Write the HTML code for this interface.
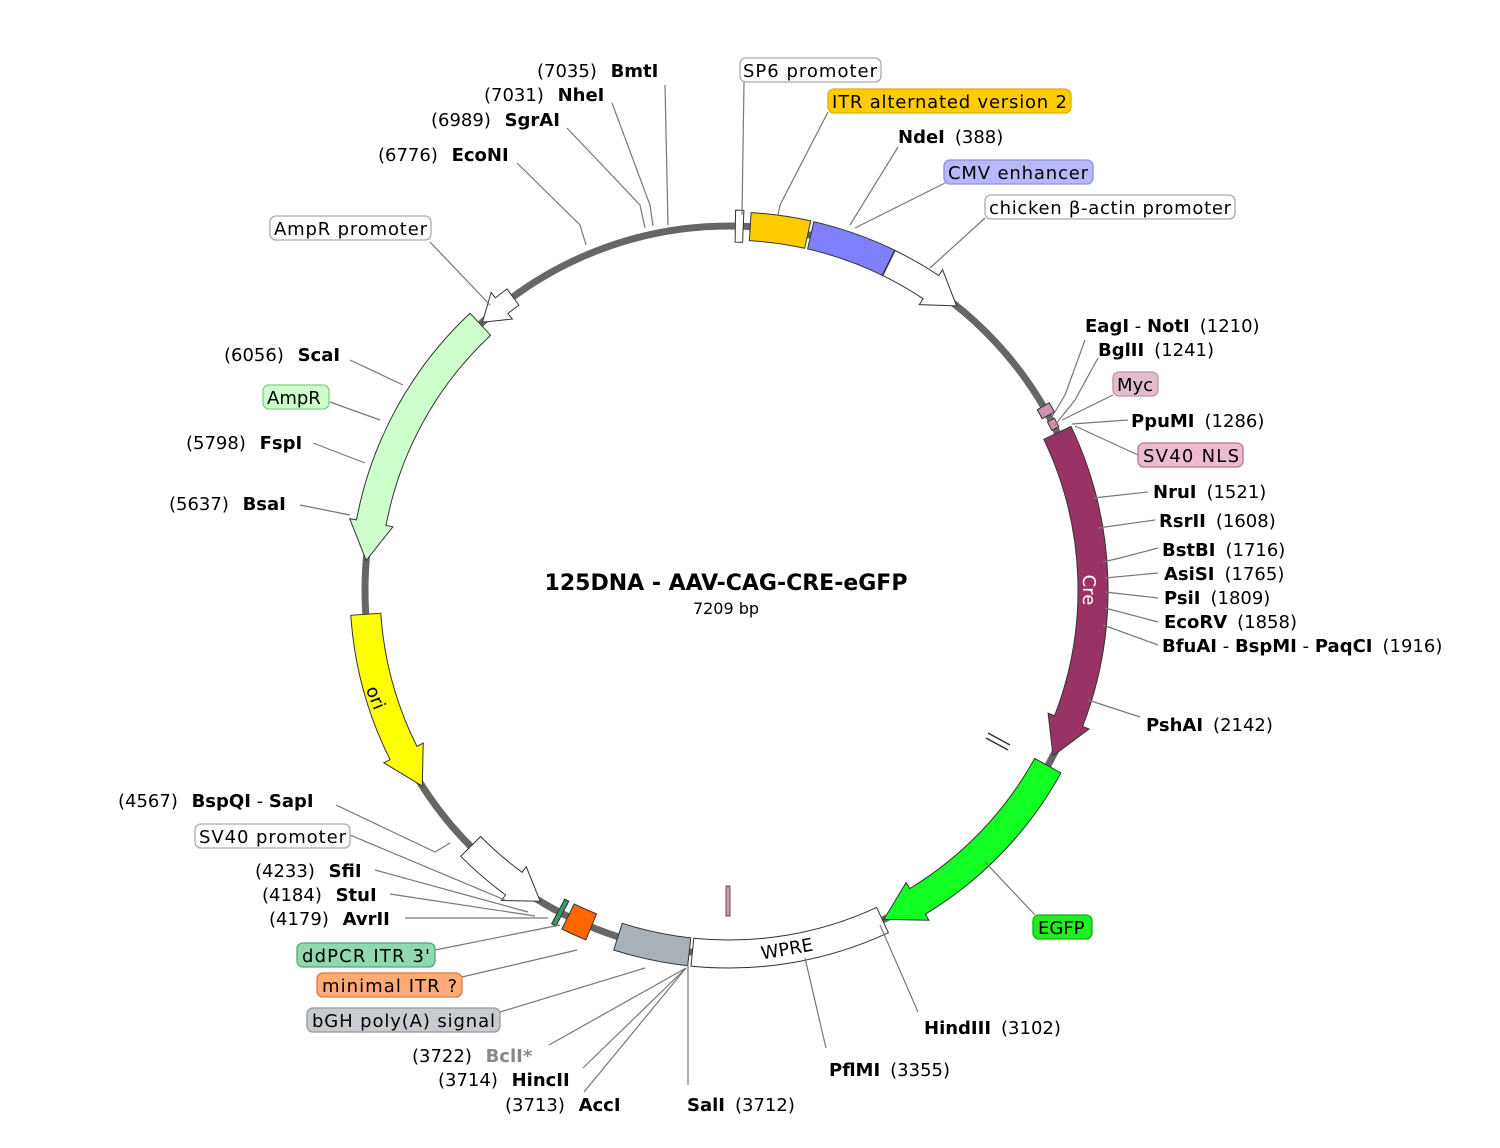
<!DOCTYPE html>
<html><head><meta charset="utf-8"><style>
html,body{margin:0;padding:0;background:#fff;}
svg{display:block;font-family:"DejaVu Sans","Liberation Sans",sans-serif;}
.t{font-size:18px;fill:#000;}
.b{font-weight:bold;}
.ln{stroke:#777;stroke-width:1.2;fill:none;}
</style></head><body>
<svg id="s" width="1500" height="1148" viewBox="0 0 1500 1148" xmlns="http://www.w3.org/2000/svg">
<circle cx="729" cy="590" r="364" fill="none" stroke="#666" stroke-width="7"/>
<g id="feats"></g>
<g class="ln">
<polyline points="665,85 668,225"/>
<polyline points="612,103 650,205 653,226"/>
<polyline points="567,128 640,205 645,228"/>
<polyline points="517,163 580,225 586,245"/>
<polyline points="744,82 742,215"/>
<polyline points="828,112 780,205 778,215"/>
<polyline points="898,147 850,225"/>
<polyline points="945,183 855,228"/>
<polyline points="985,218 930,268"/>
<polyline points="1085,340 1065,395 1050,420"/>
<polyline points="1098,358 1075,400 1055,425"/>
<polyline points="1113,395 1062,420"/>
<polyline points="1128,420 1072,424"/>
<polyline points="1138,455 1075,426"/>
<polyline points="1148,492 1093,498"/>
<polyline points="1155,520 1098,528"/>
<polyline points="1158,548 1120,558 1103,562"/>
<polyline points="1158,573 1105,578"/>
<polyline points="1158,598 1105,592"/>
<polyline points="1158,622 1105,608"/>
<polyline points="1158,645 1103,625"/>
<polyline points="1140,717 1088,700"/>
<polyline points="1035,915 985,862"/>
<polyline points="918,1012 880,925"/>
<polyline points="826,1048 805,958"/>
<polyline points="688,1085 688,965"/>
<polyline points="584,1092 686,968"/>
<polyline points="583,1068 686,968"/>
<polyline points="549,1045 686,968"/>
<polyline points="500,1012 645,968"/>
<polyline points="462,977 577,950"/>
<polyline points="435,950 560,925"/>
<polyline points="405,918 548,918"/>
<polyline points="390,894 535,916"/>
<polyline points="375,870 528,912"/>
<polyline points="350,835 505,900"/>
<polyline points="336,805 435,852 450,843"/>
<polyline points="300,505 350,515"/>
<polyline points="313,443 365,463"/>
<polyline points="330,402 380,420"/>
<polyline points="350,360 403,385"/>
<polyline points="430,242 490,305"/>
</g>
<line x1="988" y1="733" x2="1010" y2="745" stroke="#333" stroke-width="1.5"/>
<line x1="986" y1="738" x2="1008" y2="750" stroke="#333" stroke-width="1.5"/>
<rect x="726" y="886" width="4" height="30" fill="#d890b0" stroke="#555" stroke-width="1"/>

<g stroke-width="1.3">
<rect x="740" y="58" width="141" height="24" rx="6" fill="#fff" stroke="#aaa"/>
<rect x="828" y="89" width="243" height="24" rx="6" fill="#ffcc00" stroke="#e0b000"/>
<rect x="944" y="160" width="149" height="24" rx="6" fill="#b8b8ff" stroke="#9090e0"/>
<rect x="985" y="195" width="250" height="24" rx="6" fill="#fff" stroke="#aaa"/>
<rect x="1113" y="372" width="45" height="24" rx="6" fill="#e0bccc" stroke="#c090a8"/>
<rect x="1138" y="443" width="105" height="24" rx="6" fill="#ebbcd0" stroke="#c07095"/>
<rect x="1033" y="915" width="59" height="24" rx="6" fill="#22ee22" stroke="#10b010"/>
<rect x="263" y="385" width="66" height="24" rx="6" fill="#ccffcc" stroke="#8c8"/>
<rect x="270" y="216" width="161" height="24" rx="6" fill="#fff" stroke="#aaa"/>
<rect x="195" y="824" width="155" height="24" rx="6" fill="#fff" stroke="#aaa"/>
<rect x="297" y="943" width="138" height="24" rx="6" fill="#90d8b0" stroke="#50a878"/>
<rect x="317" y="973" width="145" height="24" rx="6" fill="#ffaa77" stroke="#e07840"/>
<rect x="307" y="1008" width="193" height="24" rx="6" fill="#c8ccd0" stroke="#999"/>
</g>

<g class="t">
<text x="743" y="77" textLength="134">SP6 promoter</text>
<text x="832" y="108" textLength="235">ITR alternated version 2</text>
<text x="948" y="179" textLength="140">CMV enhancer</text>
<text x="989" y="214" textLength="242">chicken β-actin promoter</text>
<text x="1117" y="391">Myc</text>
<text x="1143" y="462" textLength="96">SV40 NLS</text>
<text x="1038" y="934">EGFP</text>
<text x="267" y="404">AmpR</text>
<text x="274" y="235" textLength="153">AmpR promoter</text>
<text x="199" y="843" textLength="147">SV40 promoter</text>
<text x="302" y="962" textLength="128">ddPCR ITR 3'</text>
<text x="322" y="992" textLength="135">minimal ITR ?</text>
<text x="312" y="1027" textLength="183">bGH poly(A) signal</text>

<text x="537" y="77">(7035)  <tspan class="b" dx="8">BmtI</tspan></text>
<text x="484" y="101">(7031)  <tspan class="b" dx="8">NheI</tspan></text>
<text x="431" y="126">(6989)  <tspan class="b" dx="8">SgrAI</tspan></text>
<text x="378" y="161">(6776)  <tspan class="b" dx="8">EcoNI</tspan></text>
<text x="898" y="143"><tspan class="b">NdeI</tspan><tspan dx="10">(388)</tspan></text>
<text x="1085" y="332"><tspan class="b">EagI</tspan> - <tspan class="b">NotI</tspan><tspan dx="10">(1210)</tspan></text>
<text x="1098" y="356"><tspan class="b">BglII</tspan><tspan dx="10">(1241)</tspan></text>
<text x="1131" y="427"><tspan class="b">PpuMI</tspan><tspan dx="10">(1286)</tspan></text>
<text x="1153" y="498"><tspan class="b">NruI</tspan><tspan dx="10">(1521)</tspan></text>
<text x="1159" y="527"><tspan class="b">RsrII</tspan><tspan dx="10">(1608)</tspan></text>
<text x="1162" y="556"><tspan class="b">BstBI</tspan><tspan dx="10">(1716)</tspan></text>
<text x="1164" y="580"><tspan class="b">AsiSI</tspan><tspan dx="10">(1765)</tspan></text>
<text x="1164" y="604"><tspan class="b">PsiI</tspan><tspan dx="10">(1809)</tspan></text>
<text x="1164" y="628"><tspan class="b">EcoRV</tspan><tspan dx="10">(1858)</tspan></text>
<text x="1162" y="652"><tspan class="b">BfuAI</tspan> - <tspan class="b">BspMI</tspan> - <tspan class="b">PaqCI</tspan><tspan dx="10">(1916)</tspan></text>
<text x="1146" y="731"><tspan class="b">PshAI</tspan><tspan dx="10">(2142)</tspan></text>
<text x="924" y="1034"><tspan class="b">HindIII</tspan><tspan dx="10">(3102)</tspan></text>
<text x="829" y="1076"><tspan class="b">PflMI</tspan><tspan dx="10">(3355)</tspan></text>
<text x="687" y="1111"><tspan class="b">SalI</tspan><tspan dx="10">(3712)</tspan></text>
<text x="505" y="1111">(3713)  <tspan class="b" dx="8">AccI</tspan></text>
<text x="438" y="1086">(3714)  <tspan class="b" dx="8">HincII</tspan></text>
<text x="412" y="1062">(3722)  <tspan class="b" dx="8" fill="#888">BclI*</tspan></text>
<text x="255" y="877">(4233)  <tspan class="b" dx="8">SfiI</tspan></text>
<text x="262" y="901">(4184)  <tspan class="b" dx="8">StuI</tspan></text>
<text x="269" y="925">(4179)  <tspan class="b" dx="8">AvrII</tspan></text>
<text x="118" y="807">(4567)  <tspan class="b" dx="8">BspQI</tspan> - <tspan class="b">SapI</tspan></text>
<text x="169" y="510">(5637)  <tspan class="b" dx="8">BsaI</tspan></text>
<text x="186" y="449">(5798)  <tspan class="b" dx="8">FspI</tspan></text>
<text x="224" y="361">(6056)  <tspan class="b" dx="8">ScaI</tspan></text>
</g>

<text x="726" y="590" text-anchor="middle" font-size="22" font-weight="bold">125DNA - AAV-CAG-CRE-eGFP</text>
<text x="726" y="614" text-anchor="middle" font-size="16">7209 bp</text>

<text transform="translate(1083,590) rotate(90)" text-anchor="middle" font-size="18" fill="#fff">Cre</text>
<text transform="translate(370,700) rotate(68)" text-anchor="middle" font-size="18" fill="#000">ori</text>
<text transform="translate(788,955) rotate(-10)" text-anchor="middle" font-size="18" fill="#000">WPRE</text>
</svg>
<script>
(function(){
var cx=729,cy=590,R=364,N=7209,g=document.getElementById('feats');
function pt(a,r){var t=a*Math.PI/180;return (cx+r*Math.sin(t)).toFixed(1)+','+(cy-r*Math.cos(t)).toFixed(1);}
function A(b){return b*360/N;}
function feat(b1,b2,fill,dir,w,hw,hl){
 w=w||14;hw=hw||21;hl=hl||6;
 var a1=A(b1),a2=A(b2);if(a2<a1)a2+=360;
 var d;
 if(dir==1){var m=a2-hl;
  d='M'+pt(a1,R+w)+' A'+(R+w)+','+(R+w)+' 0 0 1 '+pt(m,R+w)+' L'+pt(m,R+hw)+' L'+pt(a2,R)+' L'+pt(m,R-hw)+' L'+pt(m,R-w)+' A'+(R-w)+','+(R-w)+' 0 0 0 '+pt(a1,R-w)+' Z';
 }else if(dir==-1){var m=a1+hl;
  d='M'+pt(a2,R+w)+' A'+(R+w)+','+(R+w)+' 0 0 0 '+pt(m,R+w)+' L'+pt(m,R+hw)+' L'+pt(a1,R)+' L'+pt(m,R-hw)+' L'+pt(m,R-w)+' A'+(R-w)+','+(R-w)+' 0 0 1 '+pt(a2,R-w)+' Z';
 }else{
  d='M'+pt(a1,R+w)+' A'+(R+w)+','+(R+w)+' 0 0 1 '+pt(a2,R+w)+' L'+pt(a2,R-w)+' A'+(R-w)+','+(R-w)+' 0 0 0 '+pt(a1,R-w)+' Z';
 }
 var p=document.createElementNS('http://www.w3.org/2000/svg','path');
 p.setAttribute('d',d);p.setAttribute('fill',fill);p.setAttribute('stroke','#333');p.setAttribute('stroke-width','1');
 g.appendChild(p);
}
feat(20,45,'#fff',0,16);
feat(67,250,'#ffcc00',0);
feat(260,520,'#8080ff',0);
feat(522,775,'#fff',1,14,21,5);
feat(1195,1228,'#d090b0',0,7);
feat(1245,1275,'#d090b0',0,4);
feat(1290,2345,'#993366',1,15,22,6);
feat(2380,3100,'#11ff22',1,15,22,6);
feat(3105,3720,'#fff',0);
feat(3730,3960,'#a8b0b8',0);
feat(4050,4130,'#ff6600',0);
feat(4150,4165,'#339966',0);
feat(4230,4510,'#fff',-1,14,21,5);
feat(4754,5330,'#ffff00',-1,15,22,6);
feat(5500,6346,'#ccffcc',-1,15,22,6);
feat(6355,6480,'#fff',-1,10,17,4);
})();
</script>
</body></html>
